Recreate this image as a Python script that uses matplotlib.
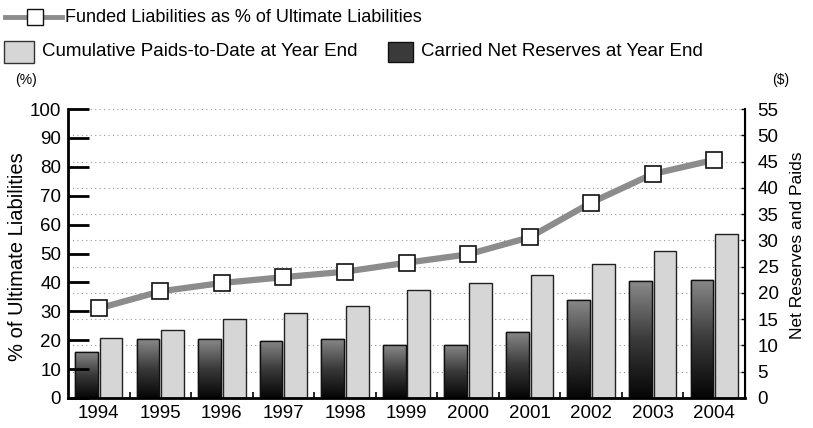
import numpy as np
import matplotlib
matplotlib.use("Agg")
import matplotlib.pyplot as plt
from matplotlib import font_manager
from matplotlib.lines import Line2D
from matplotlib.patches import Rectangle

names = {f.name for f in font_manager.fontManager.ttflist}
FONT = "Liberation Sans Narrow" if "Liberation Sans Narrow" in names else "Liberation Sans"
plt.rcParams['font.family'] = [FONT, 'DejaVu Sans']

years = ["1994", "1995", "1996", "1997", "1998", "1999", "2000", "2001", "2002", "2003", "2004"]
funded_pct = [31.0, 36.9, 39.8, 41.8, 43.7, 46.8, 49.7, 55.6, 67.6, 77.5, 82.4]
paids = [11.5, 12.9, 15.1, 16.1, 17.5, 20.6, 21.9, 23.4, 25.5, 28.0, 31.3]
net_reserves = [8.8, 11.2, 11.2, 10.9, 11.3, 10.0, 10.1, 12.6, 18.7, 22.2, 22.5]

left_ticks = list(range(0, 101, 10))
right_ticks = list(range(0, 56, 5))

W, H = 813, 428
fig = plt.figure(figsize=(W / 100, H / 100), dpi=100)
ax = fig.add_axes([68 / W, 1 - 398 / H, (745 - 68) / W, (398 - 109) / H])
ax2 = ax.twinx()

x = np.arange(len(years))
bw = 0.37
off = 0.2

# bars on right axis ($)
gradient = np.linspace(0, 1, 256).reshape(-1, 1)
cmap = matplotlib.colors.LinearSegmentedColormap.from_list("g", ["#050505", "#3a3a3a", "#8a8a8a"])
dark = ax2.bar(x - off, net_reserves, width=bw, color="#444444", edgecolor="#111111", linewidth=1.0, zorder=2)
for b in dark:
    bx, by = b.get_x(), b.get_y()
    bwid, bh = b.get_width(), b.get_height()
    im = ax2.imshow(gradient, extent=[bx, bx + bwid, by, by + bh], origin="lower",
                    cmap=cmap, aspect="auto", zorder=2.1)
    im.set_clip_path(b)
    ax2.add_patch(Rectangle((bx, by), bwid, bh, fill=False, edgecolor="#111111", linewidth=1.0, zorder=2.2))
ax2.bar(x + off, paids, width=bw, color="#d6d6d6", edgecolor="#222222", linewidth=1.0, zorder=2)

ax2.set_ylim(0, 55)
ax2.set_yticks(right_ticks)
ax2.yaxis.grid(True, linestyle=(0, (1, 3)), color="#999999", linewidth=0.8)
ax2.set_axisbelow(True)
ax2.tick_params(axis="y", direction="in", length=3, width=1, pad=9, labelsize=13.5)

# line on left axis (%), drawn above bars
ax.set_zorder(ax2.get_zorder() + 1)
ax.patch.set_visible(False)
ax.plot(x, funded_pct, color="#8c8c8c", linewidth=4.5, marker="s", markersize=12,
        markerfacecolor="white", markeredgecolor="#111111", markeredgewidth=1.2, zorder=5)
ax.set_ylim(0, 100)
ax.set_yticks(left_ticks)
ax.set_xlim(-0.5, len(years) - 0.5)
ax.set_xticks(x)
ax.set_xticklabels(years)
ax.set_xticks(np.arange(0.5, len(years) - 1, 1.0), minor=True)
ax.tick_params(axis="x", which="major", length=0, pad=5, labelsize=13.5)
ax.tick_params(axis="x", which="minor", direction="in", length=4, width=1.2)
ax.tick_params(axis="y", direction="in", length=15, width=2, pad=5, labelsize=13.5)

for a in (ax, ax2):
    a.spines["top"].set_visible(False)
ax.spines["left"].set_linewidth(2)
ax.spines["bottom"].set_linewidth(2)
ax2.spines["right"].set_linewidth(1.5)
ax2.spines["left"].set_visible(False)
ax2.spines["bottom"].set_visible(False)
ax2.tick_params(axis="x", length=0)

# axis titles
fig.text(18 / W, 1 - 257 / H, "% of Ultimate Liabilities", fontsize=14.5, rotation=90,
         ha="center", va="center")
fig.text(797 / W, 1 - 245 / H, "Net Reserves and Paids", fontsize=12.5, rotation=90,
         ha="center", va="center")
fig.text(26 / W, 1 - 80 / H, "(%)", fontsize=10, ha="center", va="center")
fig.text(781 / W, 1 - 80 / H, "($)", fontsize=10, ha="center", va="center")

# legend (manual)
tr = fig.transFigure
fig.add_artist(Line2D([5 / W, 62 / W], [1 - 17 / H, 1 - 17 / H], transform=tr, color="#8c8c8c",
                      linewidth=3.5))
fig.add_artist(Line2D([35 / W], [1 - 17 / H], transform=tr, linestyle="none", marker="s", markersize=11,
                      markerfacecolor="white", markeredgecolor="#111111"))
fig.text(65 / W, 1 - 17 / H, "Funded Liabilities as % of Ultimate Liabilities", fontsize=13, va="center")

fig.add_artist(Rectangle((4 / W, 1 - 63 / H), 30 / W, 22 / H, transform=tr,
                         facecolor="#d6d6d6", edgecolor="#333333", linewidth=1))
fig.text(42 / W, 1 - 52 / H, "Cumulative Paids-to-Date at Year End", fontsize=13.5, va="center")
fig.add_artist(Rectangle((388 / W, 1 - 62 / H), 25 / W, 20 / H, transform=tr,
                         facecolor="#3a3a3a", edgecolor="#111111", linewidth=1))
fig.text(421 / W, 1 - 52 / H, "Carried Net Reserves at Year End", fontsize=13.5, va="center")

fig.savefig("out.png", dpi=100)
